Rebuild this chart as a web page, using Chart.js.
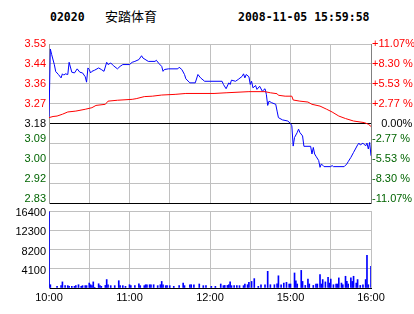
<!DOCTYPE html>
<html>
<head>
<meta charset="utf-8">
<script src="https://cdn.jsdelivr.net/npm/chart.js@4.4.0/dist/chart.umd.min.js"></script>
<style>
  body { margin: 0; background: #fff; width: 414px; height: 314px; overflow: hidden; position: relative; }
  .hd { position: absolute; top: 9px; font: bold 11.5px "DejaVu Sans Mono", monospace; line-height: 16px; color: #000; }
  .nm { position: absolute; top: 7px; left: 105px; font: 13px "Noto Sans CJK SC", sans-serif; line-height: 18px; color: #000; }
  canvas { position: absolute; left: 0; }
</style>
</head>
<body>
<div class="hd" style="left:50px">02020</div>
<div class="nm">安踏体育</div>
<div class="hd" style="left:238px">2008-11-05 15:59:58</div>
<canvas id="price" width="414" height="170" style="top:36px"></canvas>
<canvas id="vol" width="414" height="109" style="top:205px"></canvas>
<script>
// minutes since 10:00 (lunch break removed: 12:30 -> 14:30)
const timeTicks = [0, 30, 60, 90, 120, 150, 180, 210, 240]
const timeLabels = ['10:00', '', '11:00', '', '12:00', '', '15:00', '', '16:00']

const priceTicks = [2.828, 2.916, 3.004, 3.092, 3.18, 3.268, 3.356, 3.444, 3.532]
const priceLabels = ['2.83', '2.92', '3.00', '3.09', '3.18', '3.27', '3.36', '3.44', '3.53']
const pctLabels = ['-11.07%', '-8.30 %', '-5.53 %', '-2.77 %', '\u2007 0.00%', '+2.77 %', '+5.53 %', '+8.30 %', '+11.07%']

const priceMin = [0, 1, 2, 4, 5, 7, 9, 10, 11, 12, 14, 15, 17, 19, 21, 23, 25, 27, 28, 29,
  30, 31, 32, 34, 37, 39, 41, 43, 44, 46, 48, 51, 53, 55, 60, 62, 64, 67, 69, 70,
  74, 79, 80, 82, 84, 85, 86, 89, 96, 97, 99, 101, 102, 105, 109, 111, 113, 116, 129, 130,
  132, 134, 135, 136, 139, 141, 144, 145, 146, 147, 149, 150, 151, 152, 154, 155, 157, 159, 161, 162,
  163, 164, 166, 169, 170, 171, 174, 178, 180, 181, 182, 183, 185, 186, 187, 189, 190, 195, 196, 197,
  198, 199, 201, 202, 203, 205, 210, 211, 212, 220, 222, 223, 225, 227, 230, 231, 232, 234, 236, 237,
  238, 239, 240]
const priceVal = [3.21, 3.51, 3.485, 3.44, 3.41, 3.397, 3.382, 3.40, 3.394, 3.40, 3.397, 3.451, 3.407, 3.404, 3.422, 3.407, 3.404, 3.387, 3.363, 3.426,
  3.419, 3.404, 3.411, 3.416, 3.426, 3.419, 3.411, 3.451, 3.441, 3.448, 3.436, 3.422, 3.433, 3.441, 3.441, 3.451, 3.455, 3.463, 3.48, 3.47,
  3.455, 3.455, 3.46, 3.445, 3.433, 3.411, 3.419, 3.422, 3.422, 3.429, 3.419, 3.397, 3.378, 3.36, 3.36, 3.397, 3.382, 3.367, 3.367, 3.353,
  3.334, 3.36, 3.353, 3.372, 3.367, 3.375, 3.389, 3.40, 3.382, 3.397, 3.387, 3.353, 3.367, 3.338, 3.348, 3.331, 3.345, 3.323, 3.334, 3.309,
  3.26, 3.279, 3.272, 3.265, 3.235, 3.206, 3.196, 3.191, 3.18, 3.17, 3.08, 3.118, 3.14, 3.155, 3.14, 3.125, 3.079, 3.079, 3.045, 3.074,
  3.045, 3.035, 3.016, 2.986, 3.001, 2.989, 2.989, 2.994, 2.989, 2.989, 3.001, 3.011, 3.03, 3.052, 3.085, 3.093, 3.085, 3.093, 3.081, 3.093,
  3.067, 3.096, 3.037]

const avgMin = [0, 3, 6, 10, 14, 20, 27, 32, 35, 42, 44, 51, 62, 65, 71, 77, 84, 94, 102, 123,
  132, 149, 161, 165, 170, 171, 176, 181, 182, 187, 193, 196, 202, 207, 211, 216, 221, 227, 235, 238, 240]
const avgVal = [3.206, 3.211, 3.213, 3.221, 3.231, 3.235, 3.243, 3.25, 3.26, 3.265, 3.279, 3.283, 3.287, 3.29, 3.299, 3.301, 3.306, 3.309, 3.313, 3.313,
  3.316, 3.321, 3.321, 3.316, 3.312, 3.305, 3.301, 3.301, 3.284, 3.279, 3.275, 3.265, 3.257, 3.243, 3.231, 3.213, 3.202, 3.191, 3.184, 3.177, 3.167]

const volTicks = [0, 4100, 8200, 12300, 16400]
const volMin = [0, 1, 6, 9, 10, 12, 14, 15, 17, 19, 20, 22, 24, 25, 27, 28, 30, 31, 32, 33,
  34, 37, 38, 39, 42, 43, 44, 46, 49, 52, 53, 55, 57, 60, 61, 64, 67, 68, 71, 72,
  73, 75, 76, 78, 81, 83, 84, 85, 87, 88, 90, 93, 97, 100, 101, 105, 106, 108, 112, 115,
  117, 121, 124, 128, 130, 131, 133, 134, 135, 136, 138, 140, 142, 145, 146, 148, 149, 151, 153, 156,
  158, 161, 163, 165, 168, 170, 171, 173, 175, 177, 179, 180, 183, 184, 185, 188, 189, 191, 193, 194,
  197, 199, 200, 202, 203, 204, 206, 208, 209, 210, 212, 214, 215, 216, 218, 219, 221, 222, 223, 225,
  226, 227, 229, 230, 232, 234, 236, 237, 238, 240]
const volVal = [16200, 700, 350, 500, 1300, 500, 500, 350, 350, 350, 500, 700, 350, 500, 500, 500, 1050, 700, 500, 1300,
  150, 900, 500, 350, 550, 1800, 700, 500, 500, 1550, 500, 500, 350, 700, 500, 500, 900, 500, 500, 700,
  700, 700, 700, 700, 500, 700, 1400, 700, 500, 500, 500, 350, 500, 1050, 500, 700, 700, 700, 850, 500,
  500, 350, 350, 850, 500, 550, 550, 700, 1300, 500, 500, 500, 500, 500, 850, 700, 1200, 1400, 2000, 350,
  700, 700, 3550, 700, 700, 900, 2600, 700, 1050, 1200, 850, 850, 3200, 1550, 850, 3750, 1400, 550, 1900, 850,
  550, 850, 850, 2850, 850, 1800, 1300, 2250, 1050, 1900, 700, 850, 850, 2150, 1050, 700, 2500, 1400, 850, 2150,
  1400, 2500, 1050, 1800, 550, 700, 1800, 6950, 700, 4600]

const GRID = '#c0c0c0'
const RED = '#ff0000'
const GREEN = '#006400'
const BLUE = '#0000ff'
const FONT = { family: '"Liberation Sans", Arial, sans-serif', size: 11 }

const toPoints = (xs, ys) => xs.map((x, i) => ({ x, y: ys[i] }))
const signColor = i => i > 4 ? RED : (i < 4 ? GREEN : '#000')
// labels under the prev-close line sit a little higher than their grid line
const lowFont = ctx => ({ ...FONT, lineHeight: ctx.index < 4 ? 0.75 : 1.2 })
const lowLabel = (arr, i) => i < 4 ? [arr[i], ''] : arr[i]

// fixed axis sizes so both panels share the same plot box
const fixWidth = w => s => { s.width = w; s.paddingTop = 0; s.paddingBottom = 0 }
const fixHeight = h => s => { s.height = h; s.paddingLeft = 0; s.paddingRight = 0 }

const xTimeScale = {
  type: 'linear', min: 0, max: 240, offset: false,
  afterBuildTicks: s => { s.ticks = timeTicks.map(v => ({ value: v })) },
  grid: { color: GRID, drawTicks: false, offset: false },
}

new Chart(document.getElementById('price'), {
  type: 'line',
  data: {
    datasets: [
      { data: toPoints(avgMin, avgVal), borderColor: RED, borderWidth: 1, pointRadius: 0, tension: 0 },
      { data: toPoints(priceMin, priceVal), borderColor: BLUE, borderWidth: 1, pointRadius: 0, tension: 0 },
    ],
  },
  options: {
    responsive: false, animation: false, events: [],
    layout: { autoPadding: false, padding: { top: 8, bottom: 3, left: 0, right: 0 } },
    plugins: { legend: { display: false }, tooltip: { enabled: false } },
    scales: {
      x: { ...xTimeScale, ticks: { display: false }, border: { display: false }, afterFit: fixHeight(0) },
      y: {
        position: 'left', min: priceTicks[0], max: priceTicks[8],
        afterBuildTicks: s => { s.ticks = priceTicks.map(v => ({ value: v })) },
        afterFit: fixWidth(49),
        ticks: { callback: (v, i) => lowLabel(priceLabels, i), autoSkip: false, color: ctx => signColor(ctx.index), font: lowFont, padding: 3 },
        grid: { color: ctx => (ctx.index === 0 || ctx.index === 4) ? '#000' : GRID, drawTicks: false },
        border: { color: '#999' },
      },
      yR: {
        position: 'right', min: priceTicks[0], max: priceTicks[8],
        afterBuildTicks: s => { s.ticks = priceTicks.map(v => ({ value: v })) },
        afterFit: fixWidth(43),
        ticks: { callback: (v, i) => lowLabel(pctLabels, i), autoSkip: false, color: ctx => signColor(ctx.index), font: lowFont, padding: 1 },
        grid: { drawOnChartArea: false, drawTicks: false },
        border: { color: '#808080' },
      },
    },
  },
})

new Chart(document.getElementById('vol'), {
  type: 'bar',
  data: {
    datasets: [{ data: toPoints(volMin, volVal), backgroundColor: BLUE, barThickness: 1 }],
  },
  options: {
    responsive: false, animation: false, events: [],
    layout: { autoPadding: false, padding: { top: 6, bottom: 0, left: 0, right: 43 } },
    plugins: { legend: { display: false }, tooltip: { enabled: false } },
    scales: {
      x: {
        ...xTimeScale,
        ticks: { callback: (v, i) => timeLabels[i], autoSkip: false, maxRotation: 0, color: '#000', font: FONT, padding: 3 },
        border: { color: '#000' },
        afterFit: fixHeight(26),
      },
      y: {
        min: 0, max: 16400,
        afterBuildTicks: s => { s.ticks = volTicks.map(v => ({ value: v })) },
        afterFit: fixWidth(49),
        ticks: { callback: (v, i) => i === 0 ? '' : String(v), autoSkip: false, color: '#000', font: FONT, padding: 3, labelOffset: 2 },
        grid: { color: ctx => ctx.index === 0 ? '#000' : GRID, drawTicks: false },
        border: { color: '#999' },
      },
    },
  },
})
</script>
</body>
</html>
